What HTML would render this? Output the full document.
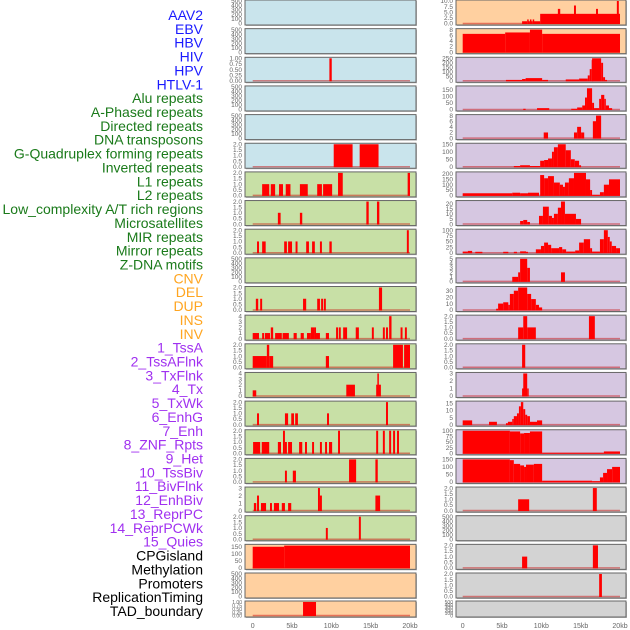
<!DOCTYPE html>
<html><head><meta charset="utf-8">
<style>
html,body{margin:0;padding:0;background:#fff;}
svg{display:block;font-family:"Liberation Sans",sans-serif;}
</style></head>
<body>
<svg id="chart" width="630" height="630" viewBox="0 0 630 630"></svg>
<script>
const labels=["AAV2","EBV","HBV","HIV","HPV","HTLV-1","Alu repeats","A-Phased repeats","Directed repeats","DNA transposons","G-Quadruplex forming repeats","Inverted repeats","L1 repeats","L2 repeats","Low_complexity A/T rich regions","Microsatellites","MIR repeats","Mirror repeats","Z-DNA motifs","CNV","DEL","DUP","INS","INV","1_TssA","2_TssAFlnk","3_TxFlnk","4_Tx","5_TxWk","6_EnhG","7_Enh","8_ZNF_Rpts","9_Het","10_TssBiv","11_BivFlnk","12_EnhBiv","13_ReprPC","14_ReprPCWk","15_Quies","CPGisland","Methylation","Promoters","ReplicationTiming","TAD_boundary"];
const labelGroups=[0,0,0,0,0,0,1,1,1,1,1,1,1,1,1,1,1,1,1,2,2,2,2,2,3,3,3,3,3,3,3,3,3,3,3,3,3,3,3,4,4,4,4,4];
const groupColors=["#1a1aff","#1a7a1a","#ffa520","#a030f0","#000000"];
const xTickLabels=["0","5kb","10kb","15kb","20kb"];
const xTickValues=[0,5,10,15,20];
const T500=["0","100","200","300","400","500"];
const T2=["0.0","0.5","1.0","1.5","2.0"];
// left column
const leftBg=["b","b","b","b","b","b","g","g","g","g","g","g","g","g","g","g","g","g","g","o","o","o"];
const leftMax=[500,500,1,500,500,2,2,2,2,500,2,4,2,4,2,2,2,3,2,160,500,1];
const leftTicks=[T500,T500,["0.00","0.25","0.50","0.75","1.00"],T500,T500,T2,T2,T2,T2,T500,T2,["0","1","2","3","4"],T2,["0","1","2","3","4"],T2,T2,T2,["0","1","2","3"],T2,["0","50","100","150"],T500,["0.00","0.25","0.50","0.75","1.00"]];
const leftSegs=[
null,null,
[[9.75,10.05,1]],
null,null,
[[10.3,12.7,2],[13.6,16.0,2]],
[[1.2,2.1,1],[2.3,2.85,1],[3.35,3.85,1],[4.2,4.8,1],[6.0,7.0,1],[8.2,8.8,1],[8.95,10.1,1],[10.85,11.45,2],[19.7,20,2]],
[[3.2,3.55,1],[6.0,6.3,1],[14.45,14.75,2],[15.8,16.1,2]],
[[0.55,0.8,1],[1.2,1.65,1],[4.0,4.35,1],[4.5,5.0,1],[5.45,5.7,1],[6.8,7.15,1],[7.55,7.9,1],[8.55,8.8,1],[9.75,10.05,1],[19.6,19.85,2]],
null,
[[0.4,0.7,1],[0.95,1.2,1],[6.4,6.8,1],[8.2,8.55,1],[8.7,8.95,1],[9.05,9.3,1],[16.05,16.45,2]],
[[0,0.8,1],[1.2,1.45,1],[1.55,2.2,1],[2.3,2.6,2],[2.85,3.7,1],[3.8,4.6,1],[5.2,5.6,1],[6.1,6.5,1],[6.9,7.4,1],[7.4,7.8,2],[7.8,8.05,2],[8.05,8.55,1],[9.3,9.7,1],[10.6,10.85,2],[10.95,11.2,2],[11.5,12.0,2],[13.1,13.5,2],[15.15,15.4,2],[16.55,16.8,2],[16.95,17.2,2],[17.35,17.65,4],[18.8,19.05,2],[19.35,19.6,2]],
[[0,1.8,1],[1.8,2.1,2],[2.1,2.6,1],[9.3,9.7,1],[17.85,19.1,2],[19.25,20,2]],
[[0,0.45,1],[11.9,13.0,2],[15.7,15.85,2],[15.85,16.0,4],[16.0,16.3,2]],
[[0.55,0.8,1],[4.1,4.5,1],[4.9,5.25,1],[5.4,5.75,1],[9.45,9.7,1],[16.95,17.2,2]],
[[0.05,0.95,1],[1.15,2.1,1],[3.2,3.6,1],[3.85,4.1,2],[4.1,4.35,1],[4.5,5.0,1],[5.9,6.3,1],[6.65,6.9,1],[7.55,7.8,1],[8.55,8.8,1],[9.2,9.45,1],[9.7,10.1,1],[10.85,11.1,2],[15.7,15.95,2],[16.55,16.8,2],[17.35,17.6,2],[17.85,18.1,2],[18.35,18.6,2]],
[[4.1,4.35,1],[5.1,5.5,1],[12.25,13.15,2],[15.6,15.9,2]],
[[0.15,0.45,1],[0.55,0.8,2],[1.05,1.7,1],[2.2,2.45,1],[2.7,3.35,1],[3.7,4.1,1],[4.5,4.9,1],[8.3,8.55,3],[8.55,8.8,2],[15.6,16.2,2]],
[[9.3,9.55,1],[13.5,13.75,2]],
[[0,4,150],[4,20,158]],
null,
[[6.4,8.05,1]]
];
// right column
const rightBg=["o","o","p","p","p","p","p","p","p","p","p","p","p","p","p","p","p","x","x","x","x","x"];
const rightMax=[10,8,250,170,8,150,210,22,100,5,35,2,2,3,16,100,150,2,500,2,2,500];
const rightTicks=[["0.0","2.5","5.0","7.5","10.0"],["0","2","4","6","8"],["0","50","100","150","200","250"],["0","50","100","150"],["0","2","4","6","8"],["0","50","100","150"],["0","50","100","150","200"],["0","5","10","15","20"],["0","25","50","75","100"],["0","1","2","3","4","5"],["0","10","20","30"],T2,T2,["0","1","2","3"],["0","5","10","15"],["0","25","50","75","100"],["0","50","100","150"],T2,T500,T2,T2,T500];
const rightSegs=[
[[7.55,8.2,1],[8.2,8.3,1.8],[8.3,8.55,1],[8.55,8.65,1.8],[8.65,8.9,1],[8.9,9.0,1.8],[9.0,9.85,1],[9.85,20,4.3],[12.1,12.4,6.5],[14.15,14.4,8],[16.95,17.2,6.5],[19.6,19.85,10]],
[[0,5.4,6.5],[5.4,8.55,7],[8.55,10.1,8],[10.1,20,6.5]],
[[5.5,7.55,10],[7.55,8.0,20],[8.0,10.1,30],[10.1,10.85,10],[13.1,14.8,15],[14.8,15.9,25],[15.9,16.15,60],[16.15,16.4,130],[16.4,16.45,230],[16.45,17.6,250],[17.6,17.85,200],[17.85,18.1,40],[18.1,18.35,10]],
[[7.7,8.0,5],[9.45,11,10],[13.8,14.55,5],[14.55,15.2,15],[15.2,15.55,30],[15.55,15.8,90],[15.8,16.45,160],[16.45,16.7,50],[16.7,17.35,10],[17.35,17.6,80],[17.6,18.0,110],[18.0,18.2,80],[18.2,18.6,30],[18.6,19.0,10]],
[[10.3,10.85,2],[14.15,14.55,2],[14.55,15.05,4],[15.05,15.45,2],[16.55,16.95,6],[16.95,17.6,8]],
[[6.5,7.3,5],[7.3,8.55,10],[8.55,9.85,5],[9.85,10.35,40],[10.35,10.85,45],[10.85,11.35,55],[11.35,11.6,100],[11.6,12.1,130],[12.1,13.1,150],[13.1,13.75,110],[13.75,14.25,50],[14.25,14.8,40],[14.8,15.05,10]],
[[0,6.3,20],[6.3,7.3,25],[7.3,8.3,20],[8.3,9.7,25],[9.85,10.35,190],[10.35,10.85,160],[10.85,11.6,180],[11.6,12.35,120],[12.35,12.75,100],[12.75,13.0,80],[13.0,13.5,120],[13.5,14.15,160],[14.15,15.675,210],[15.675,16.2,150],[16.2,16.45,50],[16.45,17.45,5],[17.45,17.95,30],[17.95,18.6,100],[18.6,20,150]],
[[7.3,7.7,3],[7.7,8.2,4],[8.2,8.55,2],[9.7,10.2,8],[10.2,10.95,17],[10.95,11.35,8],[11.35,11.6,6],[11.6,12.1,10],[12.1,12.5,16],[12.5,13.0,22],[13.0,14.4,10],[14.4,15.05,5]],
[[0,0.65,5],[0.65,1.2,8],[1.6,2.5,4],[5.15,5.8,4],[6.5,6.9,4],[7.3,8.05,6],[8.05,8.3,4],[9.3,9.95,15],[9.95,10.35,30],[10.35,10.85,45],[10.85,11.25,35],[11.25,12.25,20],[12.25,12.65,25],[12.65,13.15,15],[13.15,14.3,5],[14.3,14.8,10],[14.8,15.4,45],[15.4,16.2,60],[16.2,16.45,20],[16.45,17.45,5],[17.45,17.95,60],[17.95,18.45,100],[18.45,18.7,70],[18.7,18.95,50],[18.95,19.5,30],[19.5,20,20]],
[[6.3,7.05,1],[7.05,7.3,2],[7.3,8.2,5],[8.2,8.55,3],[12.5,13.0,2]],
[[4.25,4.5,2],[4.5,5.15,10],[5.15,5.8,12],[5.8,6.0,8],[6.0,6.5,25],[6.5,7.05,30],[7.05,8.2,35],[8.2,8.7,25],[8.7,9.3,17],[9.3,9.7,8],[9.7,10.1,4]],
[[7.05,7.7,1],[7.7,8.2,2],[8.2,9.3,1],[16.05,16.8,2]],
[[7.55,7.95,2]],
[[7.55,7.7,1],[7.7,8.2,3],[8.2,8.3,1]],
[[0,1.2,3],[3.35,4.35,2],[5.5,5.75,1],[5.75,6.3,2],[6.3,6.5,4],[6.5,6.9,6],[6.9,7.15,8],[7.15,7.4,13],[7.4,7.7,16],[7.7,7.95,11],[7.95,8.2,7],[8.2,8.55,6],[8.55,9.45,2],[9.45,10.1,3]],
[[0,6.0,100],[6.0,7.3,97],[7.3,7.8,88],[7.8,8.55,90],[8.55,10.1,97],[10.1,17.95,2],[17.95,20,8]],
[[0,6.0,150],[6.0,6.5,145],[6.5,7.3,120],[7.3,7.8,110],[7.8,8.05,100],[8.05,9.05,115],[9.05,10.1,120],[10.1,16.45,8],[16.45,17.45,5],[17.45,17.85,30],[17.85,18.35,60],[18.35,19.0,85],[19.0,20,100]],
[[7.05,8.45,1],[16.55,17.05,2]],
null,
[[7.55,8.2,1],[16.55,17.2,2]],
[[17.35,17.7,2]],
null
];
const bgColors={b:"#c9e4ec",g:"#c8e0a6",o:"#ffd0a0",p:"#d6c7e1",x:"#d3d3d3"};
const NS="http://www.w3.org/2000/svg";
const svg=document.getElementById("chart");
function mk(tag,attrs,parent){const e=document.createElementNS(NS,tag);for(const k in attrs)e.setAttribute(k,attrs[k]);(parent||svg).appendChild(e);return e;}
function rowTop(i){return i<21?i*28.65:601;}
function rowH(i){return i<21?25:16;}
// labels
labels.forEach((t,i)=>{
  const e=mk("text",{x:203,y:15+i*13.86+5,"text-anchor":"end","font-size":"14",fill:groupColors[labelGroups[i]]});
  e.textContent=t;
  
  
});
function drawCol(colX0,colX1,x0px,x20px,bgs,maxs,ticks,segs,colName){
  const xs=v=>x0px+(x20px-x0px)*v/20;
  for(let i=0;i<22;i++){
    const top=rowTop(i),h=rowH(i);
    const g=mk("g",{});
    
    
    mk("rect",{x:colX0+1,y:top+1,width:colX1-colX0,height:h,fill:"#bbb"},g);
    mk("rect",{x:colX0,y:top,width:colX1-colX0,height:h,fill:bgColors[bgs[i]],stroke:"#666","stroke-width":1},g);
    const yb=top+h-1.5, yt=top+1;
    const ys=v=>yb-(yb-yt)*v/maxs[i];
    const tk=ticks[i];
    tk.forEach(lbl=>{
      const v=parseFloat(lbl);
      const tt=mk("text",{x:colX0-3,y:ys(v)+2.2,"text-anchor":"end","font-size":h<20?"5":"6.5",fill:"#666"},g);
      tt.textContent=lbl;
      
      
    });
    if(segs[i]){
      mk("line",{x1:xs(0),x2:xs(20),y1:yb,y2:yb,stroke:"rgba(200,0,0,0.45)","stroke-width":1.5},g);
      segs[i].forEach(s=>{
        const xa=xs(s[0]),xb=xs(s[1]);
        const r=mk("rect",{x:xa,y:ys(s[2]),width:Math.max(1.5,xb-xa),height:yb-ys(s[2])+0.5,fill:"#ff0000"},g);
        
        
      });
    }
  }
  xTickValues.forEach((v,k)=>{
    const t=mk("text",{x:xs(v),y:628,"text-anchor":"middle","font-size":"7",fill:"#666"});
    t.textContent=xTickLabels[k];
    
    
  });
}
drawCol(245,416,252.7,410,leftBg,leftMax,leftTicks,leftSegs,'left');
drawCol(456,626,462.7,620,rightBg,rightMax,rightTicks,rightSegs,'right');
</script>
</body></html>
